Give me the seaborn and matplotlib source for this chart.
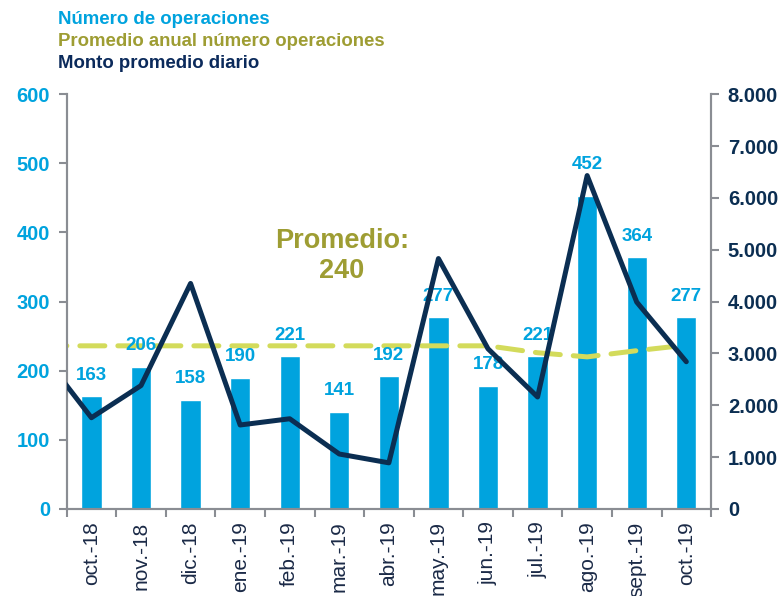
import numpy as np
import pandas as pd
import matplotlib
matplotlib.use("Agg")
import matplotlib.pyplot as plt
import seaborn as sns
from matplotlib.ticker import FuncFormatter, MultipleLocator, FixedLocator

# ---- data ----
months = ["oct.-18", "nov.-18", "dic.-18", "ene.-19", "feb.-19", "mar.-19", "abr.-19",
          "may.-19", "jun.-19", "jul.-19", "ago.-19", "sept.-19", "oct.-19"]
operaciones = [163, 206, 158, 190, 221, 141, 192, 277, 178, 221, 452, 364, 277]
# previous month (sept.-18) followed by the 13 shown months
monto_prev = 3000
monto = [1760, 2380, 4350, 1620, 1740, 1060, 890, 4830, 3090, 2160, 6430, 3990, 2840]
prom_prev = 236
promedio_anual = [236, 236, 236, 236, 236, 236, 236, 236, 236, 226, 220, 229, 237]
promedio_label = "Promedio:\n240"

BLUE = "#00A3DE"
NAVY = "#0B2E52"
OLIVE = "#9E9D33"
LIME = "#D3DB5B"
GRAY = "#8A8D93"

sns.set_style("white")
plt.rcParams["font.family"] = ["Liberation Sans", "DejaVu Sans"]

fig = plt.figure(figsize=(7.84, 5.96), dpi=100)
ax = fig.add_axes([0.085, 0.146, 0.822, 0.696])

df = pd.DataFrame({"mes": months, "ops": operaciones})
sns.barplot(data=df, x="mes", y="ops", color=BLUE, saturation=1, width=0.41, ax=ax, zorder=1)

xs_line = np.arange(-1, len(months))
dfp = pd.DataFrame({"x": xs_line, "v": [prom_prev] + promedio_anual})
sns.lineplot(data=dfp, x="x", y="v", ax=ax, color=LIME, lw=3.6, zorder=3)
ax.lines[-1].set_dashes((5, 2.6))
ax.lines[-1].set_dash_capstyle("round")

for i, v in enumerate(operaciones):
    off = 17 if v == 452 else 9
    ax.annotate(str(v), (i, v), xytext=(0, off), textcoords="offset points",
                ha="center", va="bottom", color=BLUE, fontsize=13.5, fontweight="bold", zorder=5)

ax.text(5.05, 366, promedio_label, ha="center", va="center", color=OLIVE,
        fontsize=19.5, fontweight="bold", linespacing=1.2, zorder=6)

ax.set_xlim(-0.5, len(months) - 0.5)
ax.set_ylim(0, 600)
ax.yaxis.set_major_locator(MultipleLocator(100))
ax.set_xlabel("")
ax.set_ylabel("")
ax.set_xticks(range(len(months)))
ax.set_xticklabels(months, rotation=90, color="#1B2A47", fontsize=15)
ax.xaxis.set_minor_locator(FixedLocator(np.arange(-0.5, len(months), 1)))
ax.tick_params(axis="x", which="major", length=0, pad=9)
ax.tick_params(axis="x", which="minor", length=6, width=1.5, color=GRAY, direction="out", bottom=True)
ax.tick_params(axis="y", length=6, width=1.5, color=GRAY, direction="out", left=True,
               labelcolor=BLUE, labelsize=14.5, pad=6)
for lab in ax.get_yticklabels():
    lab.set_fontweight("bold")

ax2 = ax.twinx()
dfm = pd.DataFrame({"x": xs_line, "m": [monto_prev] + monto})
sns.lineplot(data=dfm, x="x", y="m", ax=ax2, color=NAVY, lw=3.6, zorder=4)
ax2.set_ylim(0, 8000)
ax2.set_xlim(-0.5, len(months) - 0.5)
ax2.yaxis.set_major_locator(MultipleLocator(1000))
ax2.yaxis.set_major_formatter(FuncFormatter(lambda v, p: f"{int(v):,}".replace(",", ".")))
ax2.set_ylabel("")
ax2.set_xlabel("")
ax2.tick_params(axis="y", length=6, width=1.5, color=GRAY, direction="out", right=True,
                labelcolor=NAVY, labelsize=14.5, pad=6)
for lab in ax2.get_yticklabels():
    lab.set_fontweight("bold")

for a in (ax, ax2):
    a.spines["top"].set_visible(False)
    for s in ("left", "right", "bottom"):
        a.spines[s].set_color(GRAY)
        a.spines[s].set_linewidth(1.5)
    a.grid(False)

fig.text(58 / 784, 1 - 19 / 596, "Número de operaciones", color=BLUE, fontsize=13.4,
         fontweight="bold", va="center", ha="left")
fig.text(58 / 784, 1 - 41 / 596, "Promedio anual número operaciones", color=OLIVE, fontsize=13.4,
         fontweight="bold", va="center", ha="left")
fig.text(58 / 784, 1 - 63 / 596, "Monto promedio diario", color="#0B2A5B", fontsize=13.4,
         fontweight="bold", va="center", ha="left")

fig.savefig("out.png", dpi=100)
